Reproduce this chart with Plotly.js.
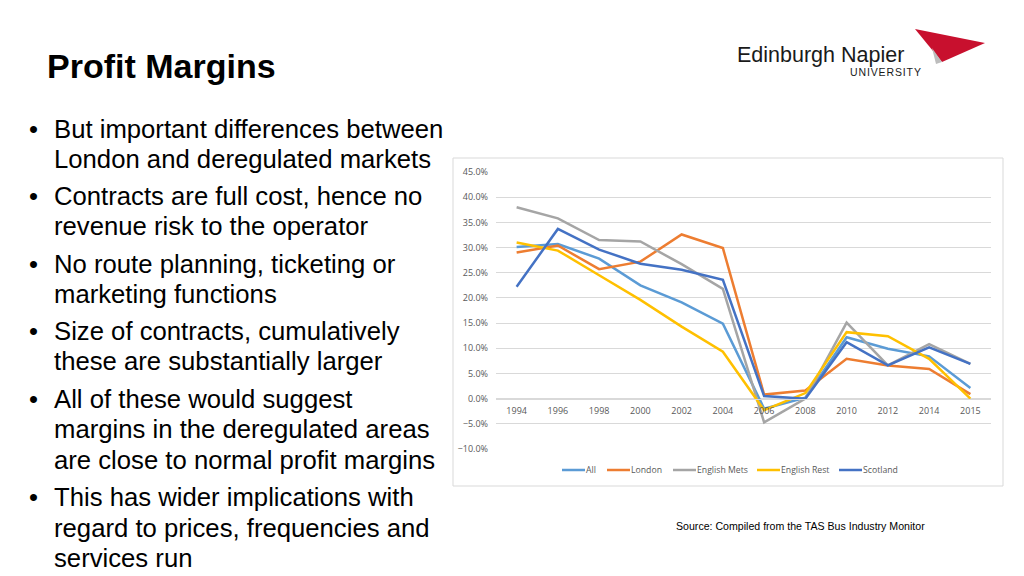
<!DOCTYPE html>
<html>
<head>
<meta charset="utf-8">
<script src="https://cdn.plot.ly/plotly-3.0.1.min.js"></script>
<style>
html,body{margin:0;padding:0;background:#fff;}
#chart{width:1024px;height:576px;}
</style>
</head>
<body>
<div id="chart"></div>
<script>
const years = ['1994','1996','1998','2000','2002','2004','2006','2008','2010','2012','2014','2015'];
const allSeries     = [30.1, 30.7, 27.8, 22.5, 19.1, 14.9, -2.0, 0.2, 12.2, 9.9, 8.4, 2.1];
const london        = [29.0, 30.4, 25.7, 27.2, 32.6, 29.9, 0.8, 1.6, 7.9, 6.6, 5.9, 0.9];
const englishMets   = [38.0, 35.8, 31.5, 31.2, 26.7, 21.8, -4.7, 0.0, 15.1, 6.6, 10.8, 6.9];
const englishRest   = [31.0, 29.4, 24.5, 19.6, 14.3, 9.3, -2.3, 1.1, 13.2, 12.4, 7.9, 0.0];
const scotland      = [22.2, 33.7, 29.6, 26.8, 25.6, 23.6, 0.5, 0.0, 11.2, 6.6, 10.2, 6.9];

const seriesNames = ['All','London','English Mets','English Rest','Scotland'];
const seriesData = [allSeries, london, englishMets, englishRest, scotland];
const seriesColors = ['#5B9BD5','#ED7D31','#A5A5A5','#FFC000','#4472C4'];

const titleText = 'Profit Margins';
const bulletLines = [
  ['But important differences between', true],
  ['London and deregulated markets', false],
  ['Contracts are full cost, hence no', true],
  ['revenue risk to the operator', false],
  ['No route planning, ticketing or', true],
  ['marketing functions', false],
  ['Size of contracts, cumulatively', true],
  ['these are substantially larger', false],
  ['All of these would suggest', true],
  ['margins in the deregulated areas', false],
  ['are close to normal profit margins', false],
  ['This has wider implications with', true],
  ['regard to prices, frequencies and', false],
  ['services run', false]
];
const sourceText = 'Source: Compiled from the TAS Bus Industry Monitor';

const W = 1024, H = 576;
const px = x => x / W;
const py = y => 1 - y / H;

const traces = seriesNames.map((n, i) => ({
  type: 'scatter', mode: 'lines', name: n,
  x: years, y: seriesData[i],
  line: {color: seriesColors[i], width: 2.5},
  hoverinfo: 'skip', showlegend: false
}));

const yTop = 172, yBot = 449;
const yDom = [py(yBot), py(yTop)];
const zeroPos = yDom[0] + (10/55) * (yDom[1] - yDom[0]);

// layout positions (pixels) for the slide text
const lineY = [129,159,196,226,264,294,331,361,399,429,460,497,528,558];
const legendLineX = [562, 607, 673, 757, 839];

const annotations = [];
const shapes = [];
annotations.push({
  text: '<b>' + titleText + '</b>', xref: 'paper', yref: 'paper',
  x: px(45), y: py(66), xanchor: 'left', yanchor: 'middle', showarrow: false,
  font: {family: 'Liberation Sans, Arial, sans-serif', size: 34, color: '#000'}
});
bulletLines.forEach((l, i) => {
  annotations.push({
    text: l[0], xref: 'paper', yref: 'paper',
    x: px(52), y: py(lineY[i]), xanchor: 'left', yanchor: 'middle', showarrow: false,
    font: {family: 'Liberation Sans, Arial, sans-serif', size: 25.7, color: '#000'}
  });
  if (l[1]) {
    annotations.push({
      text: '•', xref: 'paper', yref: 'paper',
      x: px(27), y: py(lineY[i]), xanchor: 'left', yanchor: 'middle', showarrow: false,
      font: {family: 'Liberation Sans, Arial, sans-serif', size: 25.7, color: '#000'}
    });
  }
});
annotations.push({
  text: sourceText, xref: 'paper', yref: 'paper',
  x: px(674), y: py(526), xanchor: 'left', yanchor: 'middle', showarrow: false,
  font: {family: 'Liberation Sans, Arial, sans-serif', size: 10.6, color: '#000'}
});
annotations.push({
  text: 'Edinburgh Napier', xref: 'paper', yref: 'paper',
  x: px(735), y: py(55), xanchor: 'left', yanchor: 'middle', showarrow: false,
  font: {family: 'Liberation Sans, Arial, sans-serif', size: 21.5, color: '#1a1a1a'}
});
annotations.push({
  text: 'U N I V E R S I T Y'.replace(/ /g, '\u200A'), xref: 'paper', yref: 'paper',
  x: px(923), y: py(72), xanchor: 'right', yanchor: 'middle', showarrow: false,
  font: {family: 'Liberation Sans, Arial, sans-serif', size: 10.5, color: '#1a1a1a'}
});

// legend built from series names/colors
seriesNames.forEach((n, i) => {
  const x0 = legendLineX[i];
  shapes.push({type: 'line', xref: 'paper', yref: 'paper',
    x0: px(x0), x1: px(x0 + 23), y0: py(470), y1: py(470),
    line: {color: seriesColors[i], width: 2.5}});
  annotations.push({
    text: n, xref: 'paper', yref: 'paper',
    x: px(x0 + 22), y: py(470), xanchor: 'left', yanchor: 'middle', showarrow: false,
    font: {family: 'Open Sans, sans-serif', size: 8.7, color: '#595959'}
  });
});

shapes.push(
  {type: 'rect', xref: 'paper', yref: 'paper', x0: px(453), x1: px(1003), y0: py(486), y1: py(158),
   line: {color: '#d9d9d9', width: 1}, fillcolor: 'rgba(0,0,0,0)', layer: 'below'},
  {type: 'path', xref: 'paper', yref: 'paper',
   path: `M ${px(915)} ${py(29)} L ${px(985)} ${py(43)} L ${px(942)} ${py(62)} Z`,
   fillcolor: '#C8102E', line: {width: 0}},
  {type: 'path', xref: 'paper', yref: 'paper',
   path: `M ${px(932)} ${py(48)} L ${px(942)} ${py(62)} L ${px(936)} ${py(64)} Z`,
   fillcolor: '#bdbdbd', line: {width: 0}}
);

const layout = {
  width: W, height: H,
  margin: {l: 0, r: 0, t: 0, b: 0},
  paper_bgcolor: '#fff', plot_bgcolor: 'rgba(0,0,0,0)',
  showlegend: false,
  xaxis: {
    type: 'category', domain: [px(496), px(991)], range: [-0.5, 11.5],
    anchor: 'free', position: zeroPos,
    showgrid: false, showline: true, linecolor: '#d9d9d9', linewidth: 1,
    ticks: '', zeroline: false, ticklabelstandoff: 4,
    tickfont: {family: 'Open Sans, sans-serif', size: 9, color: '#595959'}
  },
  yaxis: {
    domain: yDom, range: [-10, 45], dtick: 5, tick0: 0,
    tickformat: '.1f', ticksuffix: '%',
    showgrid: true, gridcolor: '#d9d9d9', gridwidth: 1, zeroline: false,
    showline: false, ticks: '', ticklabelstandoff: 7,
    tickfont: {family: 'Open Sans, sans-serif', size: 9, color: '#595959'}
  },
  annotations: annotations,
  shapes: shapes
};

Plotly.newPlot('chart', traces, layout, {displayModeBar: false, staticPlot: true});
</script>
</body>
</html>
